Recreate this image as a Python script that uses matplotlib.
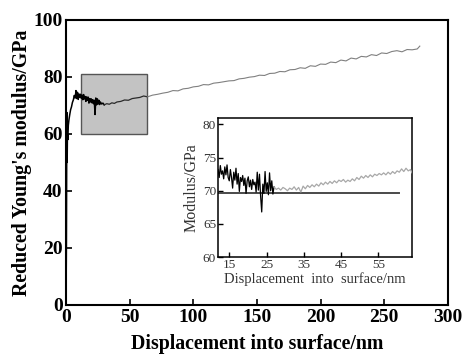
import matplotlib
matplotlib.use("Agg")
import matplotlib.pyplot as plt
from matplotlib.patches import Rectangle

# -----------------------------------------
# Data
# -----------------------------------------

main_x = [0, 0.3, 0.5, 0.7, 0.9, 1.1, 1.4, 1.8, 2.3, 3.0, 3.6, 4.3, 5.0, 5.8,
          6.5, 7.2, 7.8, 8.4, 9.0, 9.6, 10.2, 10.8, 11.4, 12.0, 12.6, 13.2,
          13.8, 14.4, 15.0, 15.6, 16.2, 16.8, 17.4, 18.0, 18.6, 19.2, 19.8,
          20.4, 21.0, 21.6, 22.2, 22.8, 23.4, 24.0, 24.6, 25.2, 25.8, 26.4,
          27.0, 28, 29, 30, 32, 34, 36, 38, 40, 43, 46, 49, 52, 55, 58, 61,
          64, 68, 72, 76, 80, 84, 88, 92, 96, 100, 104, 108, 112, 116, 120,
          124, 128, 132, 136, 140, 144, 148, 152, 156, 160, 164, 168, 172,
          176, 180, 184, 188, 192, 196, 200, 204, 208, 212, 216, 220, 224,
          228, 232, 236, 240, 244, 248, 252, 256, 260, 264, 268, 272, 276, 278]

main_y = [0, 22, 48, 67.5, 50, 60, 58, 63, 65, 67, 68.5, 69.5, 71, 72,
          73.5, 72.6, 75.2, 72.4, 74.6, 72.1, 74.0, 72.8, 73.9, 72.5, 73.6, 72.0,
          73.8, 72.3, 73.1, 71.4, 73.0, 71.8, 72.9, 70.8, 72.4, 71.2, 72.3,
          70.9, 72.0, 70.6, 71.8, 66.8, 72.6, 70.2, 72.3, 70.5, 71.8, 70.3,
          71.2, 70.5, 70.8, 70.2, 70.6, 70.4, 70.9, 70.7, 71.2, 71.4, 71.9, 71.8, 72.4, 72.6, 72.8, 73.3,
          73.0, 73.6, 73.9, 74.3, 74.6, 75.2, 75.1, 75.8, 76.0, 76.5, 76.7, 77.3, 77.2, 77.8, 78.0,
          78.3, 78.6, 78.7, 79.3, 79.5, 79.9, 80.1, 80.6, 80.5, 81.2, 81.3, 81.9, 81.8,
          82.5, 82.6, 83.2, 83.0, 83.9, 83.7, 84.5, 84.4, 85.2, 85.0, 85.9, 85.6, 86.6,
          86.3, 87.2, 87.0, 87.8, 87.5, 88.4, 88.2, 88.9, 89.2, 88.8, 89.6, 89.5, 89.8, 90.8]

# zoomed region (inset), early noisy part
inset_x1 = [12.0, 12.3, 12.6, 12.9, 13.2, 13.5, 13.8, 14.1, 14.4, 14.7, 15.0,
            15.3, 15.6, 15.9, 16.2, 16.5, 16.8, 17.1, 17.4, 17.7, 18.0, 18.3,
            18.6, 18.9, 19.2, 19.5, 19.8, 20.1, 20.4, 20.7, 21.0, 21.3, 21.6,
            21.9, 22.2, 22.5, 22.8, 23.1, 23.4, 23.7, 24.0, 24.3, 24.6, 24.9,
            25.2, 25.5, 25.8, 26.1, 26.4, 26.7, 27.0]
inset_y1 = [73.2, 72.0, 73.8, 72.5, 73.0, 71.8, 73.6, 72.4, 73.9, 72.0, 71.5,
            73.2, 72.0, 70.4, 72.8, 71.6, 73.4, 71.0, 72.6, 69.9, 72.0, 71.4,
            72.3, 70.8, 71.9, 69.6, 71.5, 72.1, 70.6, 71.6, 70.2, 71.7, 70.9,
            71.3, 69.8, 72.8, 70.1, 72.5, 69.2, 66.8, 71.0, 69.6, 72.9, 69.9,
            71.2, 69.4, 72.7, 70.0, 71.5, 69.5, 70.6]

# zoomed region (inset), smooth part
inset_x2 = [27.0, 27.6, 28.2, 28.8, 29.4, 30.0, 30.6, 31.2, 31.8, 32.4, 33.0,
            33.6, 34.2, 34.8, 35.4, 36.0, 36.6, 37.2, 37.8, 38.4, 39.0, 39.6,
            40.2, 40.8, 41.4, 42.0, 42.6, 43.2, 43.8, 44.4, 45.0, 45.6, 46.2,
            46.8, 47.4, 48.0, 48.6, 49.2, 49.8, 50.4, 51.0, 51.6, 52.2, 52.8,
            53.4, 54.0, 54.6, 55.2, 55.8, 56.4, 57.0, 57.6, 58.2, 58.8, 59.4,
            60.0, 60.6, 61.2, 61.8, 62.4, 63.0, 63.6, 64.0]
inset_y2 = [70.6, 70.2, 70.4, 70.1, 70.5, 70.3, 70.0, 70.4, 70.2, 70.6, 70.1,
            70.5, 69.8, 70.7, 70.3, 70.8, 70.5, 70.9, 70.6, 71.0, 70.7, 71.2,
            70.9, 71.3, 71.0, 71.4, 71.1, 71.5, 71.2, 71.6, 71.4, 71.7, 71.3,
            71.6, 71.4, 71.8, 71.5, 72.0, 71.7, 72.2, 71.9, 72.3, 72.0, 72.4,
            72.1, 72.5, 72.3, 72.6, 72.4, 72.7, 72.4, 72.8, 72.5, 72.9, 72.6,
            73.0, 72.8, 73.3, 72.9, 73.4, 73.0, 73.2, 72.7]

ref_x = [12, 60.6]
ref_y = [69.7, 69.7]

zoom_box = (12, 64, 60, 81)

# -----------------------------------------
# Figure
# -----------------------------------------

plt.rcParams["font.family"] = ["Liberation Serif", "DejaVu Serif"]

fig = plt.figure(figsize=(4.65, 3.55), dpi=100)

ax = fig.add_axes([0.142, 0.141, 0.821, 0.803])

n30 = main_x.index(30)
n64 = main_x.index(64)

ax.add_patch(Rectangle((zoom_box[0], zoom_box[2]),
                       zoom_box[1] - zoom_box[0],
                       zoom_box[3] - zoom_box[2],
                       facecolor="#c3c3c3", edgecolor="#555555",
                       linewidth=1.0, zorder=1))

ax.plot(main_x[:n30 + 1], main_y[:n30 + 1], color="black", lw=1.1, zorder=3)
ax.plot(main_x[n30:n64 + 1], main_y[n30:n64 + 1], color="#2a2a2a", lw=0.9, zorder=3)
ax.plot(main_x[n64:], main_y[n64:], color="#808080", lw=0.8, zorder=3)

ax.set_xlim(0, 300)
ax.set_ylim(0, 100)
ax.set_xticks([0, 50, 100, 150, 200, 250, 300])
ax.set_yticks([0, 20, 40, 60, 80, 100])

ax.tick_params(direction="in", length=4, width=1.2, labelsize=14)
ax.tick_params(axis="x", pad=3)
ax.tick_params(axis="y", pad=2.5)
for lab in ax.get_xticklabels() + ax.get_yticklabels():
    lab.set_fontweight("bold")
for s in ax.spines.values():
    s.set_linewidth(1.5)

ax.set_xlabel("Displacement into surface/nm", fontsize=14.3, fontweight="bold",
              labelpad=6)
ax.set_ylabel("Reduced Young's modulus/GPa", fontsize=14.3, fontweight="bold",
              labelpad=1)

# -----------------------------------------
# Inset
# -----------------------------------------

ins = fig.add_axes([0.469, 0.276, 0.417, 0.392])

ins.plot(ref_x, ref_y, color="#4a4a4a", lw=1.4, zorder=2)
ins.plot(inset_x1, inset_y1, color="black", lw=0.9, zorder=3)
ins.plot(inset_x2, inset_y2, color="#a8a8a8", lw=0.9, zorder=3)

ins.set_xlim(zoom_box[0], zoom_box[1])
ins.set_ylim(zoom_box[2], zoom_box[3])
ins.set_xticks([15, 25, 35, 45, 55])
ins.set_yticks([60, 65, 70, 75, 80])

ins.tick_params(direction="in", length=3.5, width=1.0, labelsize=9.5,
                labelcolor="#333333", pad=1.5)
for s in ins.spines.values():
    s.set_linewidth(1.1)

ins.set_xlabel("Displacement  into  surface/nm", fontsize=10.5, color="#333333",
               labelpad=1)
ins.set_ylabel("Modulus/GPa", fontsize=11.5, color="#333333", labelpad=2)

plt.savefig("out.png", dpi=100)
